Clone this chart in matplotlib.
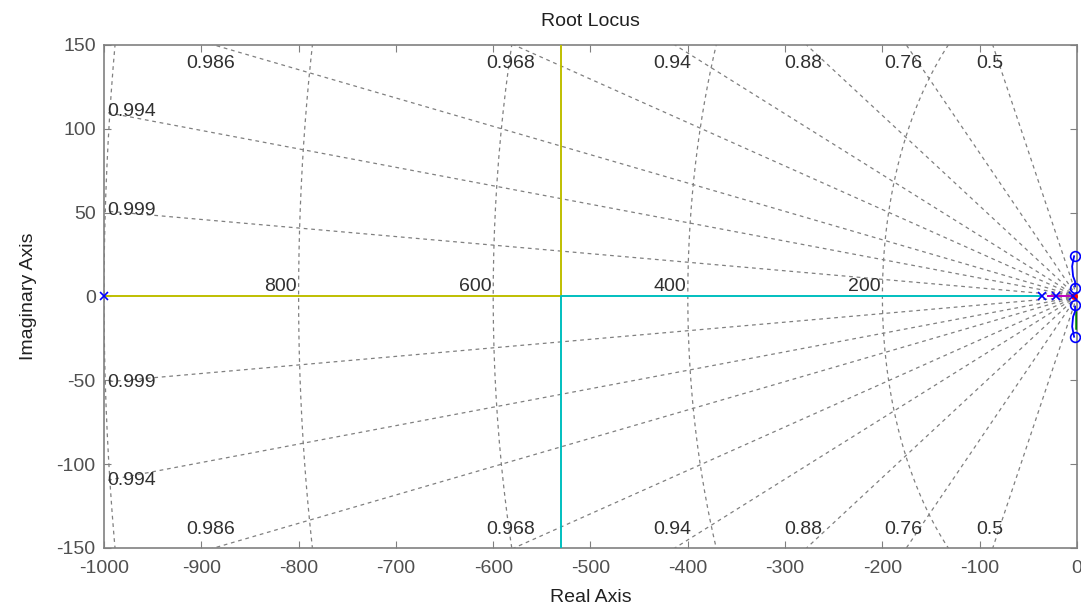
"""Root locus with s-plane grid (damping ratio lines and natural frequency arcs)."""
import numpy as np
import matplotlib
matplotlib.use("Agg")
import matplotlib.pyplot as plt

plt.rcParams["font.family"] = ["Liberation Sans", "DejaVu Sans"]
plt.rcParams["axes.unicode_minus"] = False

FS = 14

# s-grid values
zeta_values = [0.5, 0.76, 0.88, 0.94, 0.968, 0.986, 0.994, 0.9987]
zeta_labels = ["0.5", "0.76", "0.88", "0.94", "0.968", "0.986", "0.994", "0.999"]
wn_values = [200, 400, 600, 800, 1000]
wn_labels = ["200", "400", "600", "800", ""]

# locus branches (real part, imaginary part)
branch_yellow_x = [-1000, -530, -530]
branch_yellow_y = [0, 0, 150]
branch_cyan_x = [-36, -530, -530]
branch_cyan_y = [0, 0, -150]
branch_magenta_x = [-30, -6]
branch_magenta_y = [0, 0]
branch_green_x = [-1, -1]
branch_green_y = [-9, -19]
branch_blue_up_x = [-3, -5, -4, -2, -2]
branch_blue_up_y = [24, 18, 12, 9, 6]
branch_blue_dn_x = [-3, -5, -4, -2, -2]
branch_blue_dn_y = [-24, -18, -12, -9, -6]

pole_x = [-1000, -36, -22, -4]
pole_y = [0, 0, 0, 0]
zero_x = [-2, -2, -2, -2]
zero_y = [24, -24, 5, -5]

XLIM = (-1000, 0)
YLIM = (-150, 150)

fig = plt.figure(figsize=(10.81, 6.16), dpi=100)
ax = fig.add_axes([0.0962, 0.1104, 0.9001, 0.8166])

grid_kw = dict(color="#808080", linestyle=(0, (3, 3)), linewidth=0.9, zorder=1)
text_kw = dict(color="#303030", fontsize=FS, zorder=2)

# damping ratio lines
for z, lab in zip(zeta_values, zeta_labels):
    slope = np.sqrt(1 - z ** 2) / z
    for sign in (1, -1):
        ax.plot([0, -1000], [0, sign * 1000 * slope], **grid_kw)
        if 1000 * slope > 150:
            xc = -150 / slope
            ax.text(xc - 3, sign * 139, lab, ha="center", va="center", **text_kw)
        else:
            ax.text(-997, sign * 1000 * slope, lab, ha="left", va="center", **text_kw)

# natural frequency arcs
theta = np.linspace(np.pi / 2, 3 * np.pi / 2, 400)
for wn, lab in zip(wn_values, wn_labels):
    ax.plot(wn * np.cos(theta), wn * np.sin(theta), **grid_kw)
    if lab:
        ax.text(-wn - 2, 1, lab, ha="right", va="bottom", **text_kw)

# locus
ax.plot(branch_yellow_x, branch_yellow_y, color="#bfbf00", lw=1.4, zorder=3)
ax.plot(branch_cyan_x, branch_cyan_y, color="#00bfbf", lw=1.4, zorder=3)
ax.plot(branch_magenta_x, branch_magenta_y, color="#bf00bf", lw=1.4, zorder=3)
ax.plot(branch_green_x, branch_green_y, color="#008000", lw=1.8, zorder=3)
ax.plot(branch_blue_up_x, branch_blue_up_y, color="#0000ff", lw=1.3, zorder=3)
ax.plot(branch_blue_dn_x, branch_blue_dn_y, color="#0000ff", lw=1.3, zorder=3)
ax.plot([-3], [0], "o", color="red", ms=4, zorder=4)
ax.plot(pole_x, pole_y, "x", color="#0000ff", ms=6, mew=1.2, zorder=5,
        clip_on=False)
ax.plot(zero_x, zero_y, "o", mfc="none", mec="#0000ff", ms=7, mew=1.2,
        zorder=5, clip_on=False)

ax.set_xlim(*XLIM)
ax.set_ylim(*YLIM)
ax.set_xticks(np.arange(-1000, 1, 100))
ax.set_yticks(np.arange(-150, 151, 50))
ax.tick_params(direction="in", length=5, top=True, right=True, pad=6,
               colors="#808080", labelcolor="#505050", labelsize=FS)
ax.tick_params(axis="x", pad=9)
for spine in ax.spines.values():
    spine.set_color("#808080")
    spine.set_linewidth(1.2)

ax.set_title("Root Locus", fontsize=FS, color="#202020", pad=14)
ax.set_xlabel("Real Axis", fontsize=FS, color="#202020", labelpad=8)
ax.set_ylabel("Imaginary Axis", fontsize=FS, color="#202020", labelpad=14)

fig.savefig("out.png", dpi=100)
